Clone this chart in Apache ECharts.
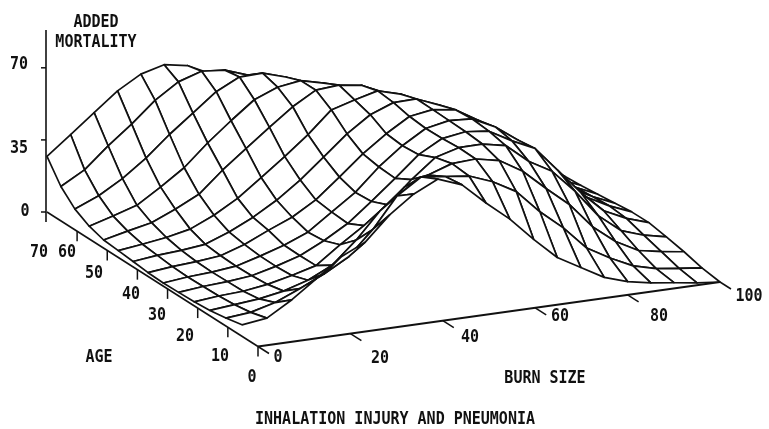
<!DOCTYPE html>
<html><head><meta charset="utf-8">
<style>html,body{margin:0;padding:0;background:#fff}#c{width:769px;height:429px}</style>
<script src="https://cdn.jsdelivr.net/npm/echarts@6/dist/echarts.min.js"></script>
</head><body><div id="c"></div>
<script>
// Grid of the surface
const burnGrid = [0,5,10,15,20,25,30,35,40,45,50,55,60,65,70,75,80,85,90,95,100];
const ageGrid  = [70,65,60,55,50,45,40,35,30,25,20,15,10,5];
// Added mortality along each burn-size line, one value per ageGrid entry
const burn0  = [27,16.5,9.7,5.6,3.2,2.4,1.5,.5,0,0,0,.5,1.5,3];
const burn5  = [36,23,14.6,9,6,4,3,2,1.5,1.5,1.5,2,3,5];
const burn10 = [45,33,21.4,12.7,8.6,5.8,4,3,2.5,2.5,2.5,3.5,6.5,12.6];
const burn15 = [54,42,29.8,20,13.6,8.4,5.5,4.5,4,4,4.5,6,12,21.6];
const burn20 = [60.5,52,39.7,27.9,19.4,13.7,10,8.5,7.5,7.2,7.5,10,18,31];
const burn25 = [63.5,59.4,48.5,38.4,29.6,20.4,15.7,14,11.4,11,11,16,25,37];
const burn30 = [61.5,63,57.4,47.7,38.6,29,22.6,19,16.4,17,19.8,27,37,49];
const burn35 = [56,62,63,56.4,47.5,37.8,31,26,24.8,24,27.8,40,52,58];
const burn40 = [50,58,63.4,61,56,47,40.7,35.7,33,33.4,36.6,50,60,64];
const burn45 = [45,53,60,62.7,62.6,57.6,50.6,45.6,44,43.3,47.6,54.7,59,60];
const burn50 = [40,48,55,60,63.6,61,58.5,54,53,53.5,57,59,58,50];
const burn55 = [36,43,50,56,62,64,63,61,60,60,60.5,60,54,41];
const burn60 = [32,38,45,51,57,61,63.4,63,62.5,62,61,58,48,30];
const burn65 = [28,33,39,45,50,55,59,61.5,62,61,59,51.6,37,20];
const burn70 = [24,28,33,38,43,48,52,55,56.8,55,50,42,28,14];
const burn75 = [20,23,27,31,35,39,43,46,49,50,44,33,17,8];
const burn80 = [15,18,21,24,27,30,33,35,37,38,33,21,11,4.8];
const burn85 = [11,13,15,17,19,21,23,25,26,26,20,12.6,6,3];
const burn90 = [7.5,9,10,12,13,14,16,17,17.5,16,11.5,7,3.5,2];
const burn95 = [5,6,7,8,9,10,11,11.5,12,11,8,5.3,2.4,.7];
const burn100= [3,3.5,4,5,5.2,5.6,6.3,7,7.8,7.7,6,4,1.5,0];
const mortality = [burn0,burn5,burn10,burn15,burn20,burn25,burn30,burn35,burn40,burn45,burn50,burn55,burn60,burn65,burn70,burn75,burn80,burn85,burn90,burn95,burn100];
// Tick labels
const mortalityTicks = [0,35,70];
const ageTicks  = [0,10,20,30,40,50,60,70];
const burnTicks = [0,20,40,60,80,100];
const titleText = 'INHALATION INJURY AND PNEUMONIA';
const zTitle = ['ADDED','MORTALITY'];
const ageTitle = 'AGE';
const burnTitle = 'BURN SIZE';

// Oblique view of the (burn, age, mortality) box
const Q = {p00:[47,212],p10:[501,148],p01:[242,331],p11:[720,282]};
function project(burn, age, z){
  let u = burn/100, v = (70-age)/65;
  u = u + .042*u*(1-u); v = v - .08*v*(1-v);
  const mix = k => (1-v)*((1-u)*Q.p00[k]+u*Q.p10[k]) + v*((1-u)*Q.p01[k]+u*Q.p11[k]);
  return [mix(0), mix(1) - 2.06*z];
}
const agePt  = a => [258-3.015*a, 346.5-1.921*a];
const burnPt = b => [258+4.62*b, 346.5-.645*b];
const zPt    = z => [46, 212-2.06*z];

const FONT = 'bold 15px "DejaVu Sans Mono", monospace';
const INK = '#111';
function txt(api, text, x, y){
  const p = api.coord([x,y]);
  return {type:'text', x:p[0], y:p[1], scaleY:1.2,
    style:{text:String(text), font:FONT, fill:INK, align:'center', verticalAlign:'middle'}};
}
function seg(api, a, b, w){
  const p=api.coord(a), q=api.coord(b);
  return {type:'line', shape:{x1:p[0],y1:p[1],x2:q[0],y2:q[1]}, style:{stroke:INK,lineWidth:w||1.6,fill:null}};
}
// back-to-front order gives the hidden-line look
const cells = [];
for(let j=0;j<ageGrid.length-1;j++) for(let i=burnGrid.length-2;i>=0;i--) cells.push([i,j]);

function renderCell(params, api){
  const i=api.value(0), j=api.value(1);
  const corners=[[i,j],[i+1,j],[i+1,j+1],[i,j+1]].map(c=>api.coord(project(burnGrid[c[0]],ageGrid[c[1]],mortality[c[0]][c[1]])));
  return {type:'polygon', shape:{points:corners}, style:{fill:'#fff',stroke:INK,lineWidth:1.7,lineJoin:'round'}};
}
function renderAxes(params, api){
  const ch=[];
  // axis lines
  ch.push(seg(api,[46,30],[46,222],1.6));
  ch.push(seg(api,agePt(70),agePt(0),1.6));
  ch.push(seg(api,burnPt(0),burnPt(100),1.8));
  // mortality
  mortalityTicks.forEach(t=>{
    const p=zPt(t);
    ch.push(seg(api,[p[0]-5,p[1]],[p[0],p[1]],1.5));
    ch.push(txt(api,t,t===0?25:19,t===0?p[1]-1:(t===35?p[1]+8:p[1]-3)));
  });
  // age
  const ageLab={0:[252,377],10:[220,356],20:[185,336],30:[157,315],40:[131,294],50:[94,273],60:[67,252],70:[39,252]};
  ageTicks.forEach(a=>{
    const p=agePt(a);
    if(a!==70) ch.push(seg(api,p,[p[0],p[1]+10],1.5));
    ch.push(txt(api,a,ageLab[a][0],ageLab[a][1]));
  });
  // burn
  const burnLab={0:[278,357],20:[380,358],40:[470,337],60:[560,316],80:[659,316],100:[749,296]};
  burnTicks.forEach(b=>{
    const p=burnPt(b);
    ch.push(seg(api,p,[p[0]+11,p[1]+7],1.5));
    ch.push(txt(api,b,burnLab[b][0],burnLab[b][1]));
  });
  ch.push(txt(api,zTitle[0],96,22));
  ch.push(txt(api,zTitle[1],96,42));
  ch.push(txt(api,ageTitle,99,357));
  ch.push(txt(api,burnTitle,545,378));
  ch.push(txt(api,titleText,395,419));
  return {type:'group',children:ch};
}
const chart = echarts.init(document.getElementById('c'),null,{width:769,height:429});
chart.setOption({
  animation:false, backgroundColor:'#fff',
  grid:{left:0,right:0,top:0,bottom:0},
  xAxis:{type:'value',min:0,max:769,show:false},
  yAxis:{type:'value',min:0,max:429,inverse:true,show:false},
  series:[
    {type:'custom',coordinateSystem:'cartesian2d',renderItem:renderCell,data:cells,encode:{x:0,y:1},progressive:0,silent:true,clip:false},
    {type:'custom',coordinateSystem:'cartesian2d',renderItem:renderAxes,data:[[0,0]],encode:{x:0,y:1},silent:true,clip:false,z:3}
  ]
});
</script></body></html>
